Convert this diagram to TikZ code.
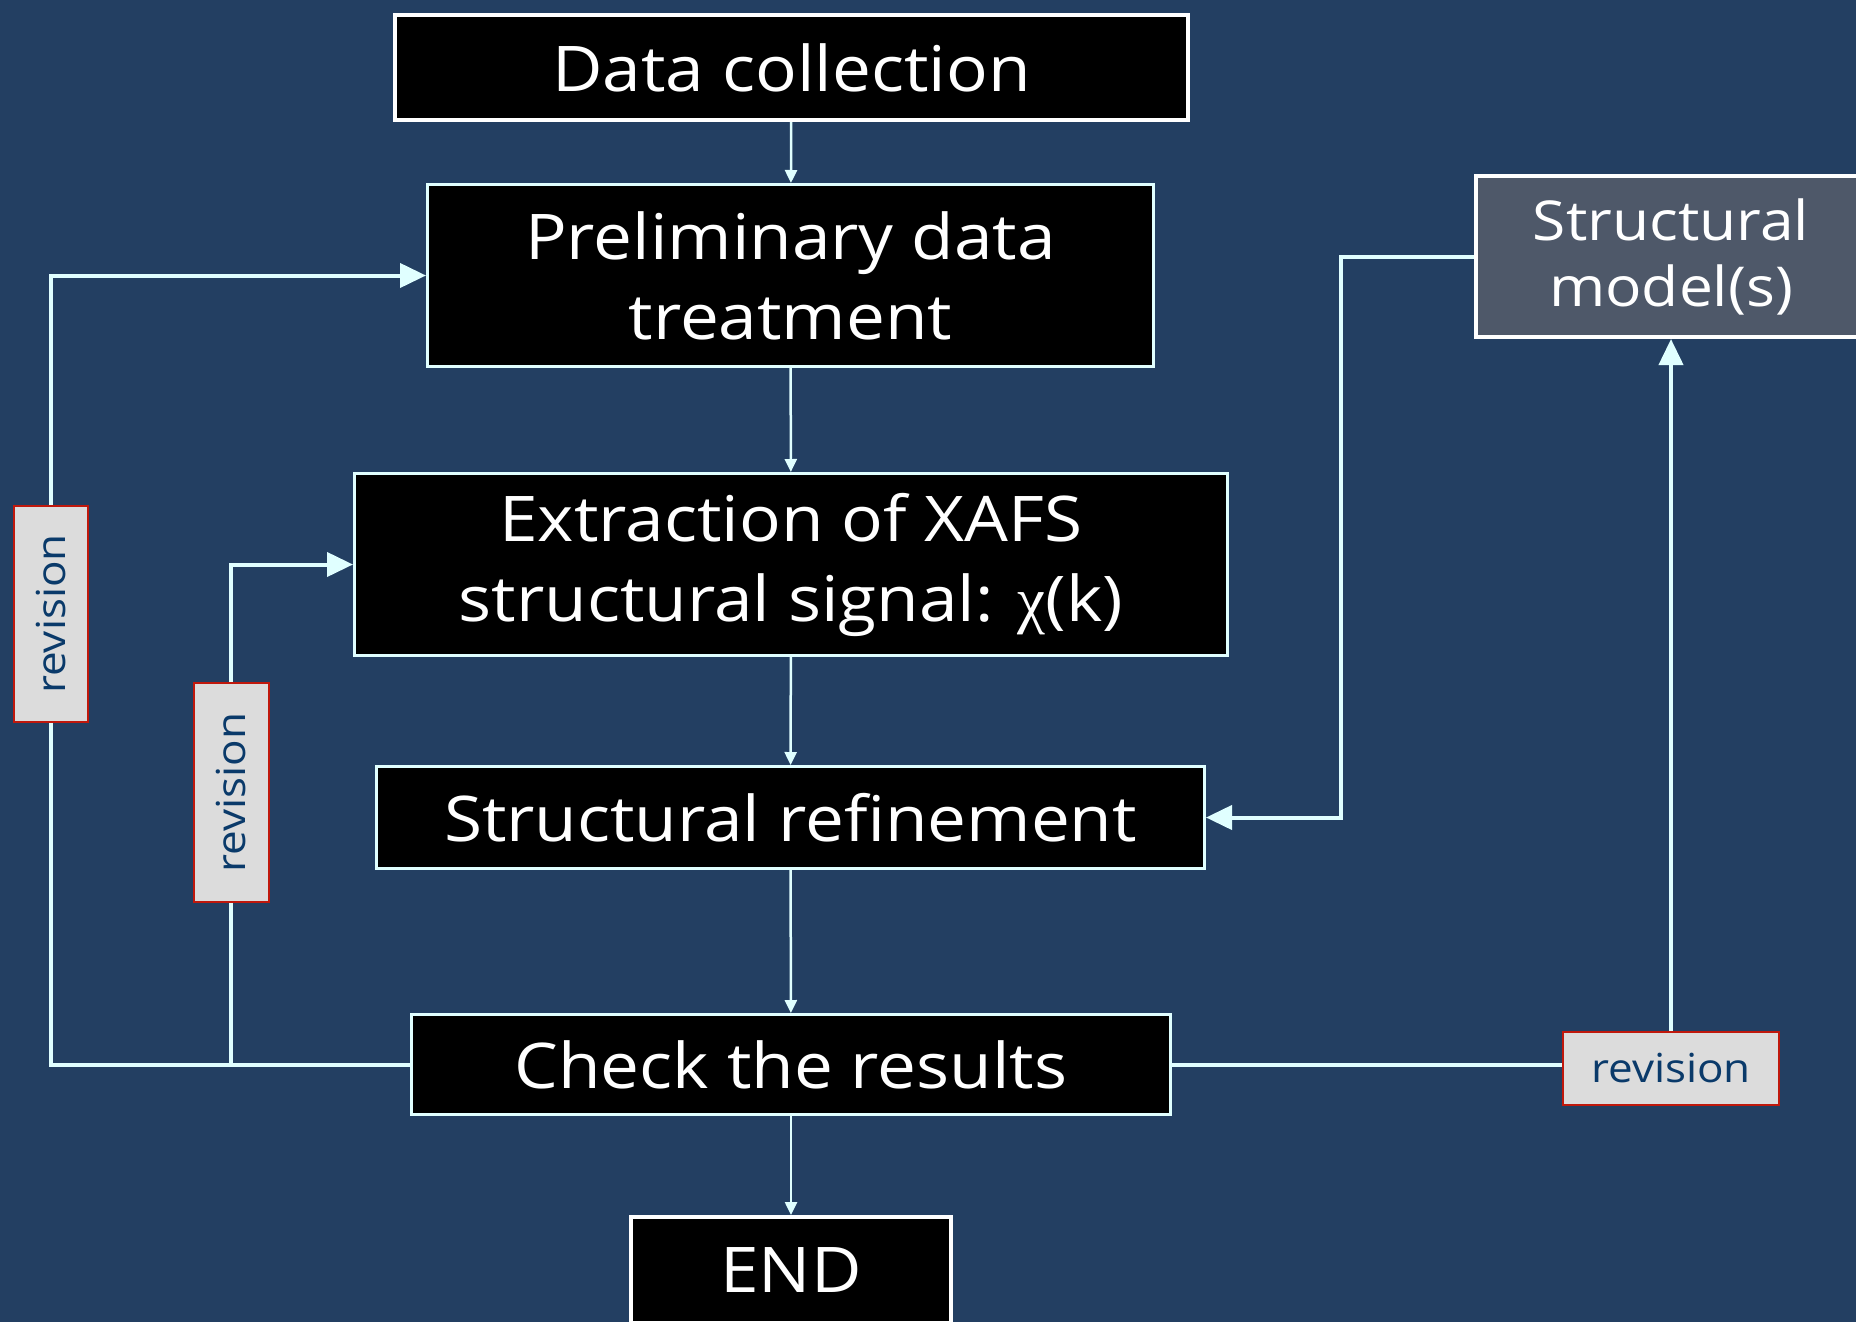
\documentclass[tikz,border=0pt]{standalone}
\usepackage{fontspec}
\setmainfont{Open Sans}[FakeStretch=1.1]
\newfontfamily\chifont{Liberation Serif}
\usetikzlibrary{arrows.meta}
\definecolor{bg}{HTML}{233F62}
\definecolor{ln}{HTML}{E0FFFF}
\definecolor{revfill}{HTML}{DCDCDC}
\definecolor{revborder}{HTML}{C0180C}
\definecolor{revtext}{HTML}{0A3A6A}
\definecolor{smfill}{HTML}{4E5869}
\tikzset{
  mainbox/.style={draw=ln, line width=3pt, fill=black, text=white, align=center,
    inner sep=0pt, font=\fontsize{63}{80}\selectfont},
  revbox/.style={draw=revborder, line width=2pt, fill=revfill, text=revtext,
    inner sep=0pt, font=\fontsize{40}{46}\selectfont},
  flow/.style={draw=ln, line width=2.5pt, -{Triangle[length=13pt,width=12pt]}},
  loopline/.style={draw=ln, line width=4pt},
  looparrow/.style={loopline, -{Triangle[length=26pt,width=24pt]}}
}
\begin{document}
\begin{tikzpicture}[x=1pt,y=-1pt]
\fill[bg] (0,0) rectangle (1856,1322);
\useasboundingbox (0,0) rectangle (1856,1322);
\node[mainbox, draw=white, line width=4pt, minimum width=793pt, minimum height=105pt] (dc) at (791.5,67.5) {Data collection};
\node[mainbox, minimum width=726pt, minimum height=182pt] (pre) at (790.5,275.5) {Preliminary data\\treatment};
\node[mainbox, minimum width=873pt, minimum height=182pt] (ext) at (791,564.5) {Extraction of XAFS\\structural signal: {\chifont χ}(k)};
\node[mainbox, minimum width=828pt, minimum height=102pt] (ref) at (790.5,817.5) {Structural refinement};
\node[mainbox, minimum width=759pt, minimum height=100pt] (chk) at (791,1064.5) {Check the results};
\node[mainbox, draw=white, line width=4pt, minimum width=320pt, minimum height=106pt] (end) at (791,1270) {END};
\node[mainbox, draw=white, line width=4pt, fill=smfill, minimum width=390pt, minimum height=161pt,
  font=\fontsize{55}{66}\selectfont] (sm) at (1671,256.5) {Structural\\model(s)};
\coordinate (bend) at (1341,0);
% connectors
\draw[flow] (dc) -- (pre);
\draw[flow] (pre) -- (ext);
\draw[flow] (ext) -- (ref);
\draw[flow] (ref) -- (chk);
\draw[flow] (chk) -- (end);
\node[revbox, rotate=90, minimum width=216pt, minimum height=74pt] (rev1) at (51,614) {revision};
\node[revbox, rotate=90, minimum width=219pt, minimum height=75pt] (rev2) at (231,792.5) {revision};
\node[revbox, minimum width=216pt, minimum height=73pt] (rev3) at (1671,1068.5) {revision};
\draw[loopline] (chk.west) -| (rev1.west);
\draw[looparrow] (rev1.east) |- (pre.west);
\draw[loopline] (chk.west) -| (rev2.west);
\draw[looparrow] (rev2.east) |- (ext.west);
\draw[loopline] (chk.east) -- (chk.east -| rev3.west);
\draw[looparrow] (rev3.north) -- (sm.south);
\draw[looparrow] (sm.west) -- (sm.west -| bend) -- (bend |- ref.east) -- (ref.east);
\end{tikzpicture}
\end{document}
